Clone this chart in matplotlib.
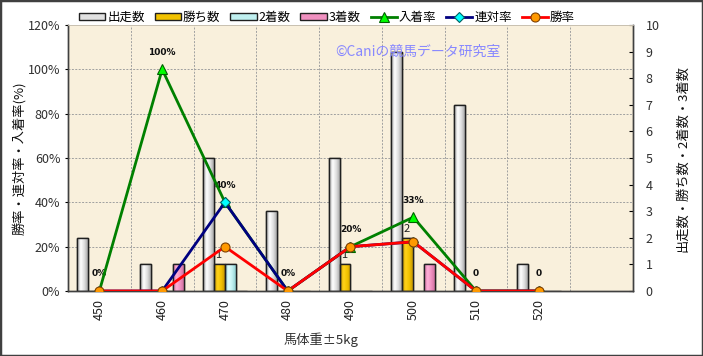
import numpy as np
import matplotlib
matplotlib.use('Agg')
import matplotlib.pyplot as plt
from matplotlib.colors import LinearSegmentedColormap
from matplotlib.patches import Rectangle

plt.rcParams['font.family'] = ['Noto Sans CJK JP', 'DejaVu Sans']

# data
weights = ['450', '460', '470', '480', '490', '500', '510', '520']
starts = [2, 1, 5, 3, 5, 9, 7, 1]      # 出走数
wins = [0, 0, 1, 0, 1, 2, 0, 0]        # 勝ち数
seconds = [0, 0, 1, 0, 0, 0, 0, 0]     # 2着数
thirds = [0, 1, 0, 0, 0, 1, 0, 0]      # 3着数
place_rate = [0, 100, 40, 0, 20, 33.3, 0, 0]    # 入着率
quinella_rate = [0, 0, 40, 0, 20, 22.2, 0, 0]   # 連対率
win_rate = [0, 0, 20, 0, 20, 22.2, 0, 0]        # 勝率
rate_labels = ['0%', '100%', '40%', '0%', '20%', '33%', '0', '0']

n_slots = 9  # one empty slot on the right
x = np.arange(len(weights))

fig = plt.figure(figsize=(7.03, 3.56), dpi=100)
fig.patches.append(Rectangle((0, 0), 1, 1, transform=fig.transFigure,
                             fill=False, ec='#404040', lw=2.5))

axb = fig.add_axes([68 / 703, 65 / 356, 565 / 703, 266 / 356])
axb.set_facecolor('#F9F0DC')
axl = axb.twinx()

cnt_max = 10
pct_max = 120

# grid (behind bars)
for t in range(20, pct_max, 20):
    axb.axhline(t * cnt_max / pct_max, color='#A0A0A0', lw=0.7, ls=(0, (2, 1.5)), zorder=0)
for b in np.arange(0.5, n_slots - 1, 1):
    axb.axvline(b, color='#A0A0A0', lw=0.7, ls=(0, (2, 1.5)), zorder=0)

# bars
w = 0.175
bar_specs = [
    (starts, -1.5, '出走数', ['#9A9A9A', '#FFFFFF', '#E0E0E0', '#A8A8A8']),
    (wins, -0.5, '勝ち数', ['#C89800', '#FFD21A', '#F2C200', '#C89800']),
    (seconds, 0.5, '2着数', ['#90D0D0', '#E0FFFF', '#C0F0F0', '#90D0D0']),
    (thirds, 1.5, '3着数', ['#D070A0', '#FFB0D8', '#F090C0', '#D070A0']),
]
grad = np.linspace(0, 1, 64).reshape(1, -1)
bar_handles = []
for vals, off, name, cols in bar_specs:
    cmap = LinearSegmentedColormap.from_list(name, cols)
    bars = axb.bar(x + off * w, vals, width=w, facecolor=cols[2],
                   edgecolor='#202020', lw=1.0, zorder=2, label=name)
    for bar in bars:
        if bar.get_height() <= 0:
            continue
        bx, by = bar.get_x(), bar.get_y()
        im = axb.imshow(grad, extent=[bx, bx + bar.get_width(), by, by + bar.get_height()],
                        aspect='auto', cmap=cmap, zorder=2.5, interpolation='bilinear')
        im.set_clip_path(bar)
        edge = Rectangle((bx, by), bar.get_width(), bar.get_height(), fill=False,
                         ec='#202020', lw=1.0, zorder=3)
        axb.add_patch(edge)
    bar_handles.append(Rectangle((0, 0), 1, 1, fc=cols[2], ec='#202020', lw=1.0))

# count labels for wins
for i, v in enumerate(wins):
    if v > 0:
        axb.annotate(str(v), (x[i] - 0.6 * w, v), xytext=(0, 3), textcoords='offset points',
                     ha='center', va='bottom', fontsize=8, color='#202020', zorder=6)

# lines
l1, = axl.plot(x, place_rate, color='#008000', lw=2, marker='^', ms=7,
               mfc='#00FF00', mec='#006000', mew=0.8, label='入着率', zorder=4)
l2, = axl.plot(x, quinella_rate, color='#000080', lw=2, marker='D', ms=5,
               mfc='#00FFFF', mec='#006060', mew=0.8, label='連対率', zorder=4)
l3, = axl.plot(x, win_rate, color='#FF0000', lw=2, marker='o', ms=6.5,
               mfc='#FF9900', mec='#804000', mew=0.8, label='勝率', zorder=5)

for i, lab in enumerate(rate_labels):
    axl.annotate(lab, (x[i], place_rate[i]), xytext=(0, 9), textcoords='offset points',
                 ha='center', va='bottom', fontsize=6.5, fontweight='bold',
                 color='#101010', family=['DejaVu Sans'])

axl.text(0.62, 0.898, '©Caniの競馬データ研究室', transform=axb.transAxes,
         ha='center', va='center', fontsize=10, color='#8888FF', zorder=1)

# axes setup
axb.set_xlim(-0.5, n_slots - 0.5)
axb.set_ylim(0, cnt_max)
axl.set_ylim(0, pct_max)
axb.set_xticks(x)
axb.set_xticklabels(weights, rotation=90, fontsize=9, color='#202020')
axb.tick_params(axis='x', length=0, pad=6)

axb.yaxis.tick_right()
axb.yaxis.set_label_position('right')
axb.set_yticks(range(0, cnt_max + 1))
axb.tick_params(axis='y', direction='in', length=3, labelsize=9, labelcolor='#303030', pad=9)

axl.yaxis.tick_left()
axl.yaxis.set_label_position('left')
axl.set_yticks(range(0, pct_max + 1, 20))
axl.set_yticklabels([f'{t}%' for t in range(0, pct_max + 1, 20)])
axl.tick_params(axis='y', direction='out', length=2, labelsize=9, labelcolor='#303030')

for ax in (axb, axl):
    for s in ax.spines.values():
        s.set_color('#404040')
        s.set_linewidth(1.0)
    ax.spines['top'].set_color('#C8C0B0')
    ax.spines['top'].set_linewidth(0.6)

axl.set_ylabel('勝率・連対率・入着率(%)', fontsize=9.5, color='#101010', labelpad=1)
axb.set_ylabel('出走数・勝ち数・2着数・3着数', fontsize=9.5, color='#101010',
               rotation=90, labelpad=12)
fig.text(321 / 703, 1 - 340 / 356, '馬体重±5kg', ha='center', va='center',
         fontsize=9.5, color='#303030')

fig.legend(bar_handles + [l1, l2, l3], ['出走数', '勝ち数', '2着数', '3着数', '入着率', '連対率', '勝率'],
           loc='center', bbox_to_anchor=(327 / 703, 1 - 17 / 356), ncol=7, frameon=False,
           fontsize=9, handlelength=2.1, handleheight=0.5, handletextpad=0.15,
           columnspacing=0.8, borderpad=0)

fig.savefig('out.png', dpi=100)
